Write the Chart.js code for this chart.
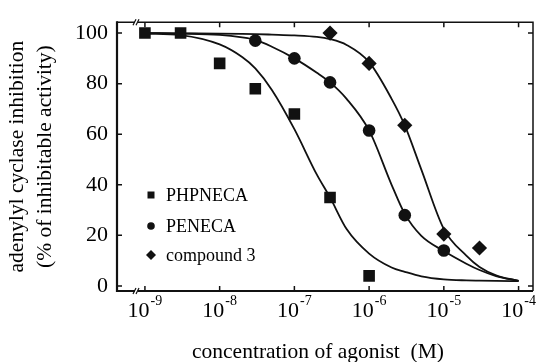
<!DOCTYPE html>
<html>
<head>
<meta charset="utf-8">
<script src="https://cdn.jsdelivr.net/npm/chart.js@4.4.0/dist/chart.umd.min.js"></script>
<style>
  html, body { margin: 0; padding: 0; background: #fff; }
</style>
</head>
<body>
<canvas id="myChart" width="536" height="362"></canvas>
<script>
// measured points
const phpX = [1e-9, 3e-9, 1e-8, 3e-8, 1e-7, 3e-7, 1e-6];
const phpY = [100, 100, 88, 78, 68, 35, 4];
const penX = [3e-8, 1e-7, 3e-7, 1e-6, 3e-6, 1e-5];
const penY = [97, 90, 80.5, 61.5, 28, 14];
const cmpX = [3e-7, 1e-6, 3e-6, 1e-5, 3e-5];
const cmpY = [100, 88, 63.5, 20.5, 15];

// fitted curves
const fitX = [1e-9, 3e-9, 1e-8, 2e-8, 3e-8, 5e-8, 1e-7, 2e-7, 3e-7, 5e-7, 1e-6, 2e-6, 3e-6, 5e-6, 1e-5, 2e-5, 3e-5, 5e-5, 1e-4];
const phpFit = [99.8, 99.2, 95.5, 90.5, 86, 77.5, 62, 44, 35, 22.5, 12.8, 7.3, 5.6, 3.8, 2.6, 2.2, 2.1, 2, 1.9];
const penFit = [100, 99.8, 99.3, 98.3, 97.3, 94.6, 90, 84.3, 80.5, 74, 61.5, 40, 28.5, 19.8, 13.8, 8.8, 6.3, 3.9, 2];
const cmpFit = [100, 99.9, 99.8, 99.7, 99.6, 99.4, 99.1, 98.5, 97.6, 95.3, 88.5, 74, 63.5, 46, 22.5, 12, 7.5, 4.2, 2];

const xTicks = [1e-9, 1e-8, 1e-7, 1e-6, 1e-5, 1e-4];
const xExp = ["-9", "-8", "-7", "-6", "-5", "-4"];
const yTicks = [0, 20, 40, 60, 80, 100];
const seriesNames = ["PHPNECA", "PENECA", "compound 3"];
const xTitle = "concentration of agonist  (M)";

const SERIF = "'Liberation Serif', 'DejaVu Serif', serif";
const INK = "#111";

const pts = (xs, ys) => xs.map((x, i) => ({ x: x, y: ys[i] }));

function marker(ctx, style, x, y, r) {
  ctx.beginPath();
  if (style === "rect") {
    ctx.rect(x - r, y - r, 2 * r, 2 * r);
  } else if (style === "circle") {
    ctx.arc(x, y, r, 0, Math.PI * 2);
  } else {
    ctx.moveTo(x, y - r);
    ctx.lineTo(x + r, y);
    ctx.lineTo(x, y + r);
    ctx.lineTo(x - r, y);
    ctx.closePath();
  }
  ctx.fill();
}

const frame = {
  id: "frame",
  afterDraw(chart) {
    const ctx = chart.ctx;
    const a = chart.chartArea;
    const xs = chart.scales.x;
    const ys = chart.scales.y;
    ctx.save();
    ctx.strokeStyle = INK;
    ctx.fillStyle = INK;

    // box
    ctx.lineWidth = 1.5;
    ctx.beginPath();
    ctx.moveTo(a.left, a.top);
    ctx.lineTo(a.right, a.top);
    ctx.lineTo(a.right, a.bottom);
    ctx.stroke();
    ctx.lineWidth = 2.2;
    ctx.beginPath();
    ctx.moveTo(a.left, a.top - 1);
    ctx.lineTo(a.left, a.bottom);
    ctx.lineTo(a.right, a.bottom);
    ctx.stroke();

    // inward ticks
    ctx.lineWidth = 1.5;
    ctx.beginPath();
    xTicks.forEach(v => {
      const px = xs.getPixelForValue(v);
      ctx.moveTo(px, a.bottom); ctx.lineTo(px, a.bottom - 5);
      ctx.moveTo(px, a.top); ctx.lineTo(px, a.top + 5);
    });
    yTicks.forEach(v => {
      const py = ys.getPixelForValue(v);
      ctx.moveTo(a.left, py); ctx.lineTo(a.left + 5, py);
      ctx.moveTo(a.right, py); ctx.lineTo(a.right - 5, py);
    });
    ctx.stroke();

    // axis break marks
    [a.top, a.bottom].forEach(yy => {
      const bx = a.left + 19;
      ctx.fillStyle = "#fff";
      ctx.fillRect(bx - 1, yy - 2, 3, 4);
      ctx.lineWidth = 1.2;
      ctx.beginPath();
      ctx.moveTo(bx - 3, yy + 3); ctx.lineTo(bx, yy - 3);
      ctx.moveTo(bx, yy + 3); ctx.lineTo(bx + 3, yy - 3);
      ctx.stroke();
    });

    // x tick labels: 10 with exponent
    ctx.fillStyle = "#000";
    ctx.textBaseline = "alphabetic";
    ctx.textAlign = "left";
    xTicks.forEach((v, i) => {
      const px = xs.getPixelForValue(v);
      ctx.font = "22px " + SERIF;
      const wb = ctx.measureText("10").width;
      ctx.font = "14px " + SERIF;
      const we = ctx.measureText(xExp[i]).width;
      const x0 = px - (wb + we + 1) / 2;
      ctx.font = "22px " + SERIF;
      ctx.fillText("10", x0, 317);
      ctx.font = "14px " + SERIF;
      ctx.fillText(xExp[i], x0 + wb + 1, 305);
    });

    // x axis title
    ctx.font = "21.5px " + SERIF;
    ctx.textAlign = "center";
    ctx.textBaseline = "middle";
    ctx.fillText(xTitle, 318, 352);

    // legend inside the plot
    const styles = ["rect", "circle", "diamond"];
    const sizes = [3.5, 3.8, 5];
    const rows = [195, 226, 255];
    ctx.font = "18px " + SERIF;
    ctx.textAlign = "left";
    seriesNames.forEach((name, i) => {
      ctx.fillStyle = INK;
      marker(ctx, styles[i], 151, rows[i], sizes[i]);
      ctx.fillStyle = "#000";
      ctx.fillText(name, 166, rows[i] + 1);
    });
    ctx.restore();
  }
};

const config = {
  type: "scatter",
  data: {
    datasets: [
      { label: seriesNames[0], data: pts(phpX, phpY), pointStyle: "rect", pointRadius: 8.2, backgroundColor: INK, borderWidth: 0, order: 0 },
      { label: seriesNames[1], data: pts(penX, penY), pointStyle: "circle", pointRadius: 6.3, backgroundColor: INK, borderWidth: 0, order: 0 },
      { label: seriesNames[2], data: pts(cmpX, cmpY), pointStyle: "rectRot", pointRadius: 7.6, backgroundColor: INK, borderWidth: 0, order: 0 },
      { label: "fit1", data: pts(fitX, phpFit), showLine: true, pointRadius: 0, borderColor: INK, borderWidth: 1.8, cubicInterpolationMode: "monotone", order: 1 },
      { label: "fit2", data: pts(fitX, penFit), showLine: true, pointRadius: 0, borderColor: INK, borderWidth: 1.8, cubicInterpolationMode: "monotone", order: 1 },
      { label: "fit3", data: pts(fitX, cmpFit), showLine: true, pointRadius: 0, borderColor: INK, borderWidth: 1.8, cubicInterpolationMode: "monotone", order: 1 }
    ]
  },
  options: {
    responsive: false,
    animation: false,
    devicePixelRatio: 1,
    layout: { autoPadding: false, padding: { top: 19, right: 3, bottom: 0, left: 0 } },
    plugins: {
      legend: { display: false },
      tooltip: { enabled: false }
    },
    scales: {
      x: {
        type: "logarithmic",
        min: 4.23e-10,
        max: 1.56e-4,
        afterBuildTicks: s => { s.ticks = xTicks.map(v => ({ value: v })); },
        afterFit: s => { s.height = 71; },
        grid: { display: false, drawTicks: false },
        border: { display: false },
        ticks: { display: false }
      },
      y: {
        min: -2,
        max: 104.3,
        afterBuildTicks: s => { s.ticks = yTicks.map(v => ({ value: v })); },
        afterFit: s => { s.width = 117; },
        grid: { display: false, drawTicks: false },
        border: { display: false },
        ticks: { color: "#000", font: { family: SERIF, size: 22 }, padding: 9 },
        title: {
          display: true,
          text: ["adenylyl cyclase inhibition", "(% of inhibitable activity)"],
          color: "#000",
          font: { family: SERIF, size: 21.5, lineHeight: 1.3 },
          padding: { top: 3, bottom: 0 }
        }
      }
    }
  },
  plugins: [frame]
};

new Chart(document.getElementById("myChart").getContext("2d"), config);
</script>
</body>
</html>
